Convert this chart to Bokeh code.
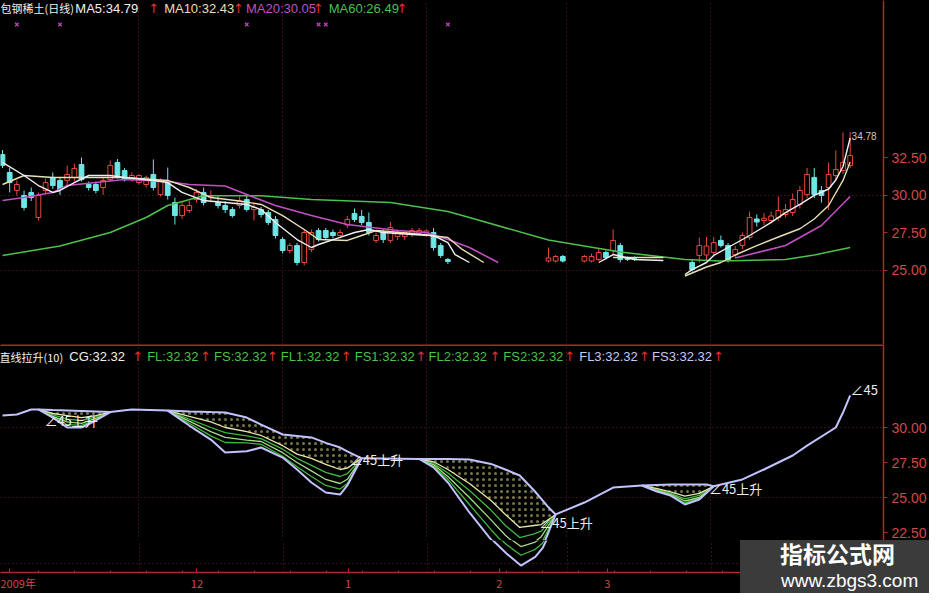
from bokeh.plotting import figure
from bokeh.models import (Range1d, FixedTicker, NumeralTickFormatter, Grid, Label,
                          BoxAnnotation, ColumnDataSource, Div)
from bokeh.layouts import column, row
from bokeh.embed import file_html
from bokeh.resources import INLINE

nan = float("nan")

# ---------------- price panel: daily candles ----------------
bar_idx = list(range(0, 63)) + [76, 77, 78] + list(range(81, 89)) + list(range(96, 119))
opens = [32.7, 31.5, 30.3, 29.97, 30.17, 28.5, 30.3, 31.17, 30.97, 30.97,
         31.17, 32.03, 30.7, 30.7, 30.5, 31.03, 32.17, 31.63, 31.03, 30.83,
         30.7, 31.37, 30.03, 30.83, 29.5, 28.63, 28.97, 29.7, 30.17, 29.85,
         29.5, 29.3, 29.03, 29.3, 29.7, 29.03, 29.03, 28.83, 28.37, 27.03,
         26.3, 26.63, 25.5, 26.37, 27.63, 27.63, 27.5, 27.3, 28.0, 28.77,
         28.57, 28.17, 26.97, 27.5, 26.97, 27.23, 27.23, 27.37, 27.43, 27.4,
         27.5, 26.63, 25.7,
         25.6, 25.6, 25.9,
         25.6, 25.6, 25.7, 26.17, 26.3, 26.63, 25.8, 25.75,
         25.5, 25.97, 26.0, 26.17, 26.97, 26.63, 26.0, 26.63, 27.17, 28.4,
         28.3, 28.3, 28.5, 28.7, 28.83, 29.37, 30.03, 31.17, 30.3, 30.5, 31.3, 31.63, 31.97]
highs = [33.0, 31.83, 30.97, 30.3, 30.5, 30.17, 31.1, 31.5, 31.2, 31.97,
         32.1, 32.5, 30.9, 30.9, 31.2, 32.3, 32.4, 31.8, 31.5, 31.4,
         31.3, 32.37, 31.1, 31.83, 29.83, 29.5, 29.6, 30.4, 30.5, 30.3,
         29.9, 29.6, 29.2, 29.9, 30.0, 29.5, 29.2, 29.0, 28.6, 27.2,
         26.8, 26.8, 27.7, 27.7, 27.8, 27.8, 27.7, 27.7, 28.6, 29.1,
         29.0, 28.83, 27.5, 27.7, 28.2, 27.7, 27.6, 27.8, 27.8, 27.7,
         27.8, 26.8, 25.8,
         26.5, 26.0, 26.0,
         26.0, 26.1, 26.4, 26.3, 27.7, 26.8, 25.9, 25.9,
         25.7, 27.17, 27.2, 27.2, 27.3, 26.8, 26.6, 27.5, 28.9, 28.7,
         28.8, 28.9, 29.9, 29.4, 30.1, 30.6, 31.8, 31.8, 30.6, 32.17, 32.97, 34.17, 34.2]
lows = [31.8, 30.17, 29.97, 28.97, 29.6, 28.3, 30.1, 30.4, 30.0, 30.63,
        30.9, 30.9, 30.3, 30.1, 30.0, 30.9, 31.1, 30.9, 30.9, 30.7,
        30.5, 30.3, 29.9, 29.7, 28.03, 28.4, 28.8, 29.5, 29.3, 29.5,
        29.1, 28.8, 28.5, 29.1, 28.9, 28.3, 28.5, 28.0, 27.1, 26.1,
        26.1, 25.3, 25.3, 26.2, 26.9, 27.0, 27.1, 27.1, 27.8, 28.2,
        28.0, 27.3, 26.8, 26.8, 26.8, 27.0, 27.0, 27.2, 27.3, 27.2,
        26.3, 25.8, 25.4,
        25.5, 25.5, 25.5,
        25.5, 25.5, 25.6, 25.7, 26.0, 25.5, 25.6, 25.6,
        24.9, 25.5, 25.6, 25.9, 26.5, 25.5, 25.8, 26.4, 27.0, 27.9,
        28.0, 28.1, 28.3, 28.5, 28.6, 29.1, 29.8, 29.8, 29.5, 29.0, 31.0, 31.4, 31.8]
closes = [31.97, 30.83, 30.7, 29.17, 29.83, 29.97, 30.83, 30.63, 30.37, 31.37,
          31.77, 31.03, 30.5, 30.3, 30.97, 31.97, 31.3, 31.03, 31.3, 31.3,
          31.17, 30.5, 30.97, 29.97, 28.63, 29.3, 29.3, 30.17, 29.5, 29.9,
          29.3, 29.03, 28.63, 29.6, 29.03, 29.17, 28.7, 28.17, 27.3, 26.3,
          26.63, 25.5, 27.5, 27.5, 27.03, 27.17, 27.3, 27.5, 28.37, 28.37,
          28.17, 27.5, 27.3, 27.03, 27.83, 27.5, 27.5, 27.63, 27.63, 27.6,
          26.5, 25.97, 25.57,
          25.8, 25.9, 25.6,
          25.9, 25.9, 26.17, 25.83, 26.97, 25.7, 25.7, 25.7,
          25.03, 26.63, 26.6, 26.83, 26.63, 25.7, 26.37, 27.3, 28.5, 28.2,
          28.45, 28.6, 28.97, 29.03, 29.7, 30.3, 31.37, 30.03, 29.97, 31.37, 31.7, 32.17, 32.63]

ma5_x = [0, 3, 5, 7, 8, 10, 12, 15, 17, 21, 23, 25, 28, 31, 34, 36, 38, 41, 43, 44,
         47, 49, 51, 53, 57, 60, 62, 63, 65, nan, 83, 85, 88, 92, nan,
         95, 96, 98, 99, 101, 104, 107, 109, 111, 113, 115, 116, 117, 118]
ma5_y = [32.17, 31.3, 30.63, 30.17, 30.3, 30.83, 31.3, 31.3, 31.17, 30.97, 30.83, 30.17, 29.63,
         29.5, 29.37, 29.03, 28.17, 27.03, 26.5, 26.7, 27.17, 27.5, 27.7, 27.5, 27.37, 27.3,
         26.83, 26.03, 25.5, nan, 25.5, 26.03, 25.7, 25.63, nan,
         24.7, 25.03, 25.5, 25.97, 26.5, 27.3, 28.17, 28.83, 29.37, 29.97, 30.4, 31.0, 31.9, 33.8]
ma10_x = [0, 3, 7, 17, 23, 26, 29, 33, 36, 39, 42, 44, 48, 50, 52, 57, 62, 64, 67, nan,
          85, 92, nan, 95, 98, 100, 102, 105, 108, 111, 113, 115, 117, 118]
ma10_y = [30.7, 31.3, 31.17, 31.17, 30.97, 30.5, 29.83, 29.6, 29.37, 28.63, 27.7, 27.03, 26.97,
          27.3, 27.63, 27.43, 27.17, 26.37, 25.5, nan, 25.83, 25.83, nan,
          24.6, 25.2, 25.5, 26.0, 26.63, 27.2, 27.75, 28.4, 29.3, 30.97, 32.2]
ma20_x = [0, 3, 7, 9, 17, 23, 26, 31, 34, 38, 43, 48, 55, 59, 62, 65, 69, nan, 102, 109, 114, 118]
ma20_y = [29.63, 29.83, 30.17, 30.63, 31.03, 30.9, 30.7, 30.6, 30.03, 29.3, 28.63, 28.03, 27.63,
          27.5, 27.03, 26.5, 25.5, nan, 25.8, 26.63, 27.97, 29.9]
ma60_x = [0, 8, 15, 20, 23, 28, 36, 43, 54, 62, 65, 76, 86, 95, 100, 109, 113, 118]
ma60_y = [25.97, 26.6, 27.5, 28.5, 29.3, 29.95, 29.95, 29.7, 29.5, 28.9, 28.5, 27.0, 26.2,
          25.7, 25.6, 25.7, 26.0, 26.5]

signal_idx = [2, 8, 34, 44, 45, 62]
price_ticks = [25.0, 27.5, 30.0, 32.5]
price_high_text = "34.78"
title_items = [("包钢稀土(日线)", "w"), ("MA5:34.79", "w"), ("MA10:32.43", "y"),
               ("MA20:30.05", "m"), ("MA60:26.49", "g")]

# ---------------- indicator panel: 直线拉升(10) ----------------
cg_x = [0, 2, 4, 5, 7, 9, 11, 13, 15, 18, 23, 26, 29, 31, 34, 36, 39, 41, 43, 45,
        47, 48, 50, 58, 60, 62, 65, 68, 70, 72, 74, 75, 76, 77, 81, 85, 89, 91, 93, 95,
        97, 98, 99, 103, 106, 110, 112, 116, 117, 118]
cg_y = [30.86, 30.93, 31.29, 31.29, 31.25, 31.22, 31.18, 31.14, 31.1, 31.29,
        31.21, 31.15, 31.1, 31.07, 30.71, 30.2, 29.5, 29.4, 29.29, 28.9,
        28.57, 28.3, 27.8, 27.75, 27.75, 27.75, 27.71, 27.4, 27.0, 26.57,
        25.5, 24.9, 24.3, 23.79, 24.64, 25.71, 25.86, 25.9, 25.93, 25.93,
        25.93, 25.93, 25.8, 26.29, 27.0, 28.0, 28.71, 30.0, 31.07, 32.3]

dip1_x = [5, 7, 9, 11, 13, 15]
dip1_top = [31.29, 31.25, 31.22, 31.18, 31.14, 31.1]
dip1_a = [31.29, 31.0, 30.85, 30.7, 30.85, 31.1]
dip1_b = [31.29, 30.9, 30.6, 30.5, 30.75, 31.1]
dip1_c = [31.29, 30.8, 30.4, 30.3, 30.65, 31.1]
dip1_d = [31.29, 30.75, 30.2, 30.15, 30.55, 31.1]
dip1_low = [31.29, 30.7, 30.0, 30.0, 30.5, 31.1]

dip2_x = [23, 26, 29, 31, 34, 36, 39, 41, 43, 45, 47, 48, 50]
dip2_top = [31.21, 31.15, 31.1, 31.07, 30.71, 30.2, 29.5, 29.4, 29.29, 28.9, 28.57, 28.3, 27.8]
dip2_a = [31.21, 30.8, 30.4, 30.0, 29.7, 29.43, 28.7, 28.1, 27.8, 27.36, 27.0, 27.1, 27.8]
dip2_b = [31.21, 30.6, 30.0, 29.64, 29.4, 29.2, 28.45, 27.8, 27.3, 26.79, 26.5, 26.7, 27.8]
dip2_c = [31.21, 30.45, 29.7, 29.29, 29.1, 29.0, 28.2, 27.5, 26.9, 26.29, 26.0, 26.3, 27.8]
dip2_d = [31.21, 30.3, 29.4, 28.93, 28.9, 28.8, 27.95, 27.2, 26.5, 25.86, 25.6, 26.0, 27.8]
dip2_low = [31.21, 30.14, 29.14, 28.21, 28.3, 28.57, 27.85, 27.0, 26.07, 25.36, 25.21, 25.86, 27.8]

dip3_x = [58, 60, 62, 65, 68, 70, 72, 74, 75, 76, 77]
dip3_top = [27.75, 27.75, 27.75, 27.71, 27.4, 27.0, 26.57, 25.5, 24.9, 24.3, 23.79]
dip3_a = [27.75, 27.55, 27.0, 26.0, 24.79, 23.79, 22.86, 23.0, 23.07, 23.43, 23.79]
dip3_b = [27.75, 27.45, 26.75, 25.5, 24.1, 23.0, 22.14, 22.4, 22.6, 23.2, 23.79]
dip3_c = [27.75, 27.35, 26.5, 25.0, 23.4, 22.3, 21.43, 21.8, 22.2, 23.0, 23.79]
dip3_d = [27.75, 27.25, 26.3, 24.5, 22.7, 21.6, 20.71, 21.2, 21.7, 22.75, 23.79]
dip3_low = [27.75, 27.15, 26.07, 23.93, 22.0, 20.86, 19.86, 20.57, 21.29, 22.5, 23.79]

dip4_x = [89, 91, 93, 95, 97, 99]
dip4_top = [25.86, 25.9, 25.93, 25.93, 25.93, 25.8]
dip4_a = [25.86, 25.65, 25.4, 25.1, 25.3, 25.8]
dip4_b = [25.86, 25.6, 25.3, 24.9, 25.15, 25.8]
dip4_c = [25.86, 25.55, 25.25, 24.75, 25.0, 25.8]
dip4_d = [25.86, 25.5, 25.2, 24.6, 24.95, 25.8]
dip4_low = [25.86, 25.45, 25.14, 24.5, 24.86, 25.8]

ind_ticks = [22.5, 25.0, 27.5, 30.0]
ind_items = [("直线拉升(10)", "w"), ("CG:32.32", "w"), ("FL:32.32", "g"), ("FS:32.32", "g"),
             ("FL1:32.32", "g"), ("FS1:32.32", "g"), ("FL2:32.32", "g"), ("FS2:32.32", "g"),
             ("FL3:32.32", "l"), ("FS3:32.32", "l")]
rise_texts = ["∠45上升", "∠45上升", "∠45上升", "∠45上升", "∠45"]

date_ticks = [1, 27, 48, 69, 84]
date_labels = ["2009年", "12", "1", "2", "3"]

# ---------------- styling / layout ----------------
W = 929
AXIS_RED = "#b02a2a"
LABEL_RED = "#d04848"
GRID_RED = "#702020"
UP_RED = "#e8473f"
DOWN_CYAN = "#6fe6e6"
COL = {"w": "#f0f0f0", "y": "#e8dfb4", "m": "#c24fc2", "g": "#4cbf4c", "l": "#c8c8f0"}
LAV = "#c2c2ff"
PALE = "#e6e6a8"
GREEN = "#3fb83f"
PALEGREEN = "#a8d88a"
CJK = "Noto Sans CJK SC"
LAT = "Liberation Sans"
SPLIT_X = 748   # reference column where the watermark corner begins
SPLIT_Y = 548   # reference row where the watermark corner begins


def bx(px):  # reference pixel column -> bar index
    return (px - 10.0) / 7.2


def ty(py):  # reference pixel row -> price (upper panel)
    return 43.5 - py / 15.0


def by(py):  # reference pixel row -> indicator value (lower panel)
    return 30.0 - (py - 435.0) / 14.0


def base_fig(**kw):
    p = figure(output_backend="svg", toolbar_location=None,
               background_fill_color="black", border_fill_color="black",
               min_border_left=0, min_border_top=0, **kw)
    p.outline_line_color = None
    p.grid.visible = False
    return p


def style_right_axis(ax, ticks):
    ax.ticker = FixedTicker(ticks=ticks, minor_ticks=[])
    ax.formatter = NumeralTickFormatter(format="0.00")
    ax.axis_line_color = AXIS_RED
    ax.axis_line_width = 1.5
    ax.major_tick_line_color = AXIS_RED
    ax.major_tick_out = 4
    ax.major_tick_in = 0
    ax.minor_tick_line_color = None
    ax.major_label_text_color = LABEL_RED
    ax.major_label_text_font = LAT
    ax.major_label_text_font_size = "14px"
    ax.major_label_standoff = 4


def add_grids(p, hticks):
    p.add_layout(Grid(dimension=0, ticker=FixedTicker(ticks=[19, 39, 59, 78.5, 98.5]),
                      grid_line_color=GRID_RED, grid_line_dash="1 3", grid_line_width=1), "center")
    p.add_layout(Grid(dimension=1, ticker=FixedTicker(ticks=hticks),
                      grid_line_color=GRID_RED, grid_line_dash="1 3", grid_line_width=1), "center")


def label(p, txt, px, yv, color, size, font, **kw):
    p.add_layout(Label(x=bx(px), y=yv, text=txt, text_color=color, text_font=font,
                       text_font_size=size, text_baseline="middle", **kw))


# ================= upper (price) figure =================
top = base_fig(width=W, height=344, x_range=Range1d(bx(8), bx(893)),
               y_range=Range1d(ty(352), ty(8)), x_axis_location=None,
               y_axis_location="right", min_border_bottom=0, min_border_right=44)
style_right_axis(top.yaxis[0], price_ticks)
add_grids(top, [25.0, 30.0])


def subset(rows):
    return ColumnDataSource(dict(
        x=[bar_idx[k] for k in rows], h=[highs[k] for k in rows], l=[lows[k] for k in rows],
        t=[max(opens[k], closes[k]) for k in rows], b=[min(opens[k], closes[k]) for k in rows]))


up_src = subset([k for k in range(len(bar_idx)) if closes[k] >= opens[k]])
dn_src = subset([k for k in range(len(bar_idx)) if closes[k] < opens[k]])
top.segment(x0="x", y0="l", x1="x", y1="h", source=up_src, line_color=UP_RED, line_width=1)
top.segment(x0="x", y0="l", x1="x", y1="h", source=dn_src, line_color=DOWN_CYAN, line_width=1)
top.vbar(x="x", width=0.66, top="t", bottom="b", source=up_src, fill_color="black",
         line_color=UP_RED, line_width=1)
top.vbar(x="x", width=0.66, top="t", bottom="b", source=dn_src, fill_color=DOWN_CYAN,
         line_color=DOWN_CYAN, line_width=1)

top.line(ma60_x, ma60_y, line_color=COL["g"], line_width=1.6)
top.line(ma20_x, ma20_y, line_color=COL["m"], line_width=1.6)
top.line(ma10_x, ma10_y, line_color=COL["y"], line_width=1.4)
top.line(ma5_x, ma5_y, line_color=COL["w"], line_width=1.4)

top.scatter(signal_idx, [ty(32)] * len(signal_idx), marker="x", size=5,
            line_color="#c040c0", line_width=1.2)
label(top, price_high_text, 861, ty(143), "#c8c8c8", "10px", LAT)

title_px = [8, 83, 172, 254, 337]
arrow_px = [None, 156, 241, 321, 405]
for (txt, ck), px, apx in zip(title_items, title_px, arrow_px):
    cjk = px == 8
    label(top, txt, px, ty(15.5), COL[ck], "11px" if cjk else "13px", CJK if cjk else LAT)
    if apx is not None:
        label(top, "↑", apx, ty(15.5), "#e03030", "13px", "DejaVu Sans")

# ================= lower (indicator) figures =================
dips = [(dip1_x, dip1_top, dip1_a, dip1_b, dip1_c, dip1_d, dip1_low),
        (dip2_x, dip2_top, dip2_a, dip2_b, dip2_c, dip2_d, dip2_low),
        (dip3_x, dip3_top, dip3_a, dip3_b, dip3_c, dip3_d, dip3_low),
        (dip4_x, dip4_top, dip4_a, dip4_b, dip4_c, dip4_d, dip4_low)]


def draw_indicator_lines(p):
    add_grids(p, [20.0, 25.0, 30.0])
    for dx, dtop, da, db, dc, dd, dlow in dips:
        p.varea(x=dx, y1=da, y2=dtop, fill_color=None, fill_alpha=0,
                hatch_pattern="dot", hatch_color="#c4c47a", hatch_alpha=0.6,
                hatch_scale=6, hatch_weight=1)
        p.line(dx, dd, line_color=GREEN, line_width=1.3)
        p.line(dx, dc, line_color=PALEGREEN, line_width=1.3)
        p.line(dx, db, line_color=GREEN, line_width=1.3)
        p.line(dx, da, line_color=PALE, line_width=1.3)
        p.line(dx, dlow, line_color=LAV, line_width=2)
    p.line(cg_x, cg_y, line_color=LAV, line_width=2)


# main lower panel: ref rows 352..548, full width with value axis
mid = base_fig(width=W, height=SPLIT_Y - 352, x_range=top.x_range,
               y_range=Range1d(by(SPLIT_Y), by(352)), x_axis_location=None,
               y_axis_location="right", min_border_bottom=0, min_border_right=44)
style_right_axis(mid.yaxis[0], ind_ticks)
mid.add_layout(BoxAnnotation(left=bx(0), right=bx(950), top=by(351), bottom=by(353.5),
                             fill_color=AXIS_RED, fill_alpha=1, line_color=None))
draw_indicator_lines(mid)

ind_px = [7, 77, 155, 222, 289, 363, 437, 512, 588, 661]
ind_arrow = [None, 140, 208, 275, 349, 424, 498, 573, 648, 722]
for (txt, ck), px, apx in zip(ind_items, ind_px, ind_arrow):
    cjk = px == 7
    label(mid, txt, px, by(364), COL[ck], "11px" if cjk else "13px", CJK if cjk else LAT)
    if apx is not None:
        label(mid, "↑", apx, by(364), "#e03030", "13px", "DejaVu Sans")
rise_px = [(52, 428), (358, 467), (548, 530), (718, 496), (860, 397)]
for txt, (px, py) in zip(rise_texts, rise_px):
    label(mid, txt, px, by(py), "#ececec", "13px", CJK)

# bottom strip left of the watermark: ref rows 548..601 (frame to 585 + date axis)
bl = base_fig(width=SPLIT_X - 8, height=601 - SPLIT_Y, x_range=Range1d(bx(8), bx(SPLIT_X)),
              y_range=Range1d(by(585), by(SPLIT_Y)), x_axis_location="below",
              y_axis_location=None, min_border_bottom=16, min_border_right=0)
xa = bl.xaxis[0]
xa.ticker = FixedTicker(ticks=date_ticks, minor_ticks=list(range(5, 105, 5)))
xa.major_label_overrides = {t: s for t, s in zip(date_ticks, date_labels)}
xa.axis_line_color = AXIS_RED
xa.axis_line_width = 1.5
xa.major_tick_line_color = AXIS_RED
xa.major_tick_in = 4
xa.major_tick_out = 0
xa.minor_tick_line_color = AXIS_RED
xa.minor_tick_in = 2
xa.minor_tick_out = 0
xa.major_label_text_color = LABEL_RED
xa.major_label_text_font = CJK
xa.major_label_text_font_size = "11px"
xa.major_label_standoff = 2
draw_indicator_lines(bl)

# watermark corner (two block lines; primary font Liberation Sans keeps line boxes compact)
wm_html = ('<div style="margin-left:40px;padding-top:2px;font-family:\'Liberation Sans\',\'Noto Sans CJK SC\';'
           'font-size:23px;font-weight:bold;line-height:27px;color:#ffffff;white-space:nowrap;">'
           '指标公式网</div>'
           '<div style="margin-left:41px;margin-top:1px;font-family:\'Liberation Sans\';font-size:19px;'
           'line-height:22px;color:#ffffff;white-space:nowrap;">www.zbgs3.com</div>')
wm = Div(text=wm_html, width=W - (SPLIT_X - 8), height=601 - SPLIT_Y, margin=0,
         styles={"background-color": "#3b3b3b", "overflow": "hidden"})

layout = column(top, mid, row(bl, wm, spacing=0, styles={"background-color": "#000000"}),
                spacing=0, styles={"background-color": "#000000"})
with open("out.html", "w", encoding="utf-8") as f:
    f.write(file_html(layout, INLINE, "包钢稀土"))
